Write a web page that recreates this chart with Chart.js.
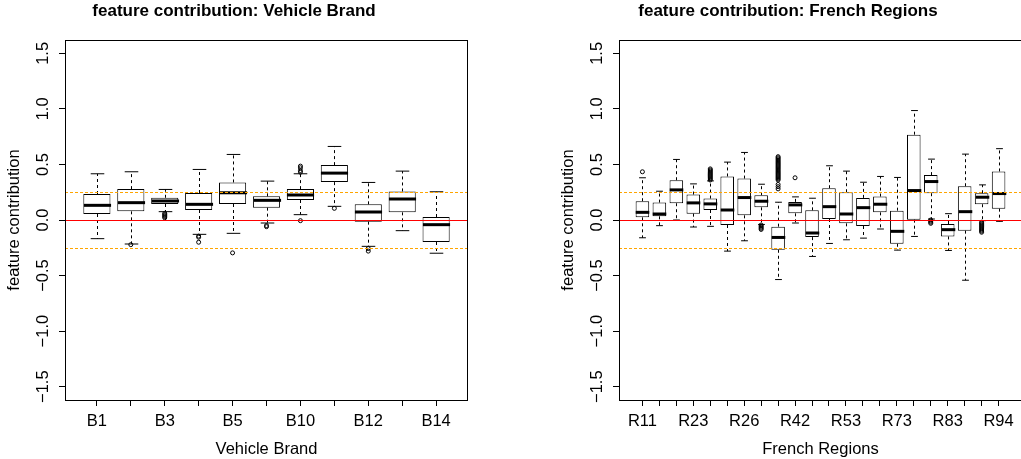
<!DOCTYPE html>
<html>
<head>
<meta charset="utf-8">
<script src="https://cdn.jsdelivr.net/npm/chart.js@4.4.1/dist/chart.umd.min.js"></script>
<style>
  html, body { margin: 0; padding: 0; background: #fff; overflow: hidden; width: 1021px; height: 459px; }
  #brandChart { position: absolute; left: 0; top: 0; }
  #regionChart { position: absolute; left: 530px; top: 0; }
</style>
</head>
<body>
<canvas id="brandChart" width="533" height="459"></canvas>
<canvas id="regionChart" width="581" height="459"></canvas>
<script>
// y axis
const yTicks = [-1.5, -1, -0.5, 0, 0.5, 1, 1.5];

// Vehicle Brand
const brands = ['B1', 'B2', 'B3', 'B4', 'B5', 'B6', 'B10', 'B11', 'B12', 'B13', 'B14'];
const brandLow = [-0.168, -0.216, 0.075, -0.129, -0.12, -0.027, 0.048, 0.123, -0.237, -0.096, -0.299];
const brandQ1 = [0.054, 0.078, 0.144, 0.09, 0.144, 0.111, 0.18, 0.341, -0.015, 0.069, -0.198];
const brandMed = [0.132, 0.156, 0.171, 0.141, 0.245, 0.177, 0.225, 0.422, 0.072, 0.189, -0.042];
const brandQ3 = [0.234, 0.278, 0.2, 0.243, 0.338, 0.213, 0.278, 0.494, 0.141, 0.257, 0.027];
const brandHigh = [0.416, 0.434, 0.275, 0.455, 0.59, 0.35, 0.416, 0.662, 0.338, 0.44, 0.254];
const brandOut = [[], [-0.222], [0.06, 0.05, 0.04, 0.03, 0.02], [-0.145, -0.155, -0.2], [-0.296],
  [-0.05, -0.06], [0.485, 0.47, 0.445, 0.43, -0.006], [0.105], [-0.257, -0.28], [], []];

// French Regions
const regions = ['R11', 'R21', 'R22', 'R23', 'R24', 'R25', 'R26', 'R31', 'R41', 'R42', 'R43',
  'R52', 'R53', 'R54', 'R72', 'R73', 'R74', 'R82', 'R83', 'R91', 'R93', 'R94'];
const regionLow = [-0.16, -0.051, 0.0, -0.063, -0.057, -0.28, -0.187, -0.04, -0.536, -0.027, -0.328,
  -0.211, -0.178, -0.163, -0.081, -0.271, -0.148, 0.009, -0.274, -0.542, -0.006, -0.012];
const regionQ1 = [0.024, 0.033, 0.151, 0.057, 0.09, -0.045, 0.042, 0.114, -0.268, 0.06, -0.154,
  0.009, -0.03, -0.054, 0.069, -0.214, 0.003, 0.241, -0.148, -0.096, 0.142, 0.102];
const regionMed = [0.069, 0.054, 0.271, 0.154, 0.145, 0.09, 0.202, 0.169, -0.157, 0.136, -0.117,
  0.12, 0.054, 0.111, 0.142, -0.102, 0.265, 0.346, -0.087, 0.075, 0.205, 0.238];
const regionQ3 = [0.169, 0.157, 0.358, 0.229, 0.193, 0.392, 0.373, 0.223, -0.06, 0.163, 0.087,
  0.286, 0.25, 0.199, 0.211, 0.084, 0.768, 0.404, -0.036, 0.304, 0.241, 0.437];
const regionHigh = [0.38, 0.259, 0.545, 0.325, 0.352, 0.521, 0.608, 0.322, 0.16, 0.208, 0.196,
  0.488, 0.44, 0.34, 0.392, 0.383, 0.985, 0.548, 0.057, 0.593, 0.316, 0.642];
const regionOut = [[0.434], [], [], [],
  [0.46, 0.45, 0.44, 0.43, 0.42, 0.41, 0.40, 0.39, 0.38, 0.37, 0.36],
  [], [], [-0.045, -0.055, -0.065, -0.075, -0.085],
  [0.57, 0.56, 0.55, 0.54, 0.53, 0.52, 0.51, 0.50, 0.49, 0.48, 0.47, 0.46, 0.45, 0.44, 0.43,
    0.42, 0.41, 0.40, 0.39, 0.38, 0.37, 0.36, 0.32, 0.30, 0.28],
  [0.38], [], [], [], [], [], [], [], [0.0, -0.01, -0.02, -0.03], [], [],
  [-0.02, -0.03, -0.04, -0.05, -0.06, -0.07, -0.08, -0.09, -0.10, -0.11], []];

const FONT = "'Liberation Sans', Arial, Helvetica, sans-serif";
Chart.defaults.font.family = FONT;
Chart.defaults.color = '#000';

function fmtTick(v) {
  const s = Math.abs(v).toFixed(1);
  return v < 0 ? '\u2212' + s : s;
}

function makeBoxChart(canvasId, cfg) {
  const n = cfg.cats.length;
  const xMin = 0.5 - 0.04 * n;
  const xMax = n + 0.5 + 0.04 * n;

  // whiskers, caps, medians, reference lines, frame and y labels
  const boxExtras = {
    id: 'boxExtras',
    afterDatasetsDraw(chart) {
      const { ctx, chartArea } = chart;
      const xs = chart.scales.x;
      const ys = chart.scales.y;
      const unit = xs.getPixelForValue(1) - xs.getPixelForValue(0);
      const capHalf = unit * 0.2;
      const boxHalf = unit * 0.4;
      ctx.save();
      ctx.strokeStyle = '#000';
      for (let i = 0; i < n; i++) {
        const x = Math.round(xs.getPixelForValue(i + 1)) + 0.5;
        const yLow = ys.getPixelForValue(cfg.low[i]);
        const yQ1 = ys.getPixelForValue(cfg.q1[i]);
        const yQ3 = ys.getPixelForValue(cfg.q3[i]);
        const yHigh = ys.getPixelForValue(cfg.high[i]);
        const yMed = ys.getPixelForValue(cfg.med[i]);
        ctx.lineWidth = 1;
        ctx.setLineDash([3, 3]);
        ctx.beginPath();
        ctx.moveTo(x, yQ1); ctx.lineTo(x, yLow);
        ctx.moveTo(x, yQ3); ctx.lineTo(x, yHigh);
        ctx.stroke();
        ctx.setLineDash([]);
        ctx.beginPath();
        ctx.moveTo(x - capHalf, yLow); ctx.lineTo(x + capHalf, yLow);
        ctx.moveTo(x - capHalf, yHigh); ctx.lineTo(x + capHalf, yHigh);
        ctx.stroke();
        ctx.lineWidth = 3;
        ctx.beginPath();
        ctx.moveTo(x - boxHalf, yMed); ctx.lineTo(x + boxHalf, yMed);
        ctx.stroke();
      }

      ctx.beginPath();
      ctx.rect(chartArea.left, chartArea.top, chartArea.right - chartArea.left, chartArea.bottom - chartArea.top);
      ctx.clip();
      const y0 = Math.round(ys.getPixelForValue(0)) + 0.5;
      ctx.lineWidth = 1.2;
      ctx.strokeStyle = '#ff0000';
      ctx.beginPath();
      ctx.moveTo(chartArea.left, y0); ctx.lineTo(chartArea.right, y0);
      ctx.stroke();
      ctx.strokeStyle = '#ffa500';
      ctx.lineWidth = 1;
      ctx.setLineDash([3, 2]);
      [0.25, -0.25].forEach(v => {
        const y = Math.round(ys.getPixelForValue(v)) + 0.5;
        ctx.beginPath();
        ctx.moveTo(chartArea.left, y); ctx.lineTo(chartArea.right, y);
        ctx.stroke();
      });
      ctx.restore();

      ctx.save();
      ctx.strokeStyle = '#000';
      ctx.lineWidth = 1;
      ctx.strokeRect(chartArea.left + 0.5, chartArea.top + 0.5,
        chartArea.right - chartArea.left - 1, chartArea.bottom - chartArea.top);
      ctx.fillStyle = '#000';
      ctx.font = `16.5px ${FONT}`;
      ctx.textAlign = 'center';
      ctx.textBaseline = 'middle';
      yTicks.forEach(v => {
        ctx.save();
        ctx.translate(chartArea.left - 22, ys.getPixelForValue(v));
        ctx.rotate(-Math.PI / 2);
        ctx.fillText(fmtTick(v), 0, 0);
        ctx.restore();
      });
      ctx.restore();
    }
  };

  const ctx = document.getElementById(canvasId).getContext('2d');
  return new Chart(ctx, {
    type: 'bar',
    data: {
      datasets: [
        {
          type: 'bar',
          data: cfg.cats.map((c, i) => ({ x: i + 1, y: [cfg.q1[i], cfg.q3[i]] })),
          backgroundColor: '#fff',
          borderColor: '#000',
          borderWidth: 1,
          borderSkipped: false,
          barPercentage: 0.8,
          categoryPercentage: 1
        },
        {
          type: 'scatter',
          data: cfg.out.flatMap((vals, i) => vals.map(v => ({ x: i + 1, y: v }))),
          pointStyle: 'circle',
          pointRadius: 2,
          pointBorderWidth: 1,
          pointBorderColor: '#000',
          pointBackgroundColor: 'rgba(0,0,0,0)'
        }
      ]
    },
    options: {
      responsive: false,
      animation: false,
      layout: { padding: { left: cfg.padLeft, right: cfg.padRight, top: 0, bottom: 0 } },
      plugins: {
        legend: { display: false },
        tooltip: { enabled: false },
        title: {
          display: true,
          text: cfg.title,
          color: '#000',
          font: { size: 17, weight: 'bold' },
          padding: { top: 1.5, bottom: 18.1 }
        }
      },
      scales: {
        x: {
          type: 'linear',
          min: xMin,
          max: xMax,
          offset: false,
          afterBuildTicks: s => { s.ticks = cfg.cats.map((c, i) => ({ value: i + 1 })); },
          afterFit: s => { s.height = 59; },
          ticks: {
            autoSkip: false,
            minRotation: 0,
            maxRotation: 0,
            padding: 6,
            color: '#000',
            font: { size: 16.5 },
            callback: (v, i) => (i % cfg.labelEvery === 0 ? cfg.cats[i] : '')
          },
          grid: { drawOnChartArea: false, drawTicks: true, tickLength: 6, color: '#000', offset: false },
          border: { display: false },
          title: { display: true, text: cfg.axisTitle, color: '#000', font: { size: 16.5 }, padding: { top: 0, bottom: 0 } }
        },
        y: {
          min: -1.62,
          max: 1.62,
          afterBuildTicks: s => { s.ticks = yTicks.map(v => ({ value: v })); },
          afterFit: s => { s.width = 65; },
          ticks: { display: false },
          grid: { drawOnChartArea: false, drawTicks: true, tickLength: 6, color: '#000' },
          border: { display: false },
          title: { display: true, text: 'feature contribution', color: '#000', font: { size: 16.5 }, padding: { top: 5, bottom: 0 } }
        }
      }
    },
    plugins: [boxExtras]
  });
}

makeBoxChart('brandChart', {
  title: 'feature contribution: Vehicle Brand',
  axisTitle: 'Vehicle Brand',
  cats: brands, low: brandLow, q1: brandQ1, med: brandMed, q3: brandQ3, high: brandHigh, out: brandOut,
  labelEvery: 2,
  padLeft: 0, padRight: 65
});

makeBoxChart('regionChart', {
  title: 'feature contribution: French Regions',
  axisTitle: 'French Regions',
  cats: regions, low: regionLow, q1: regionQ1, med: regionMed, q3: regionQ3, high: regionHigh, out: regionOut,
  labelEvery: 3,
  padLeft: 24, padRight: 89
});
</script>
</body>
</html>
